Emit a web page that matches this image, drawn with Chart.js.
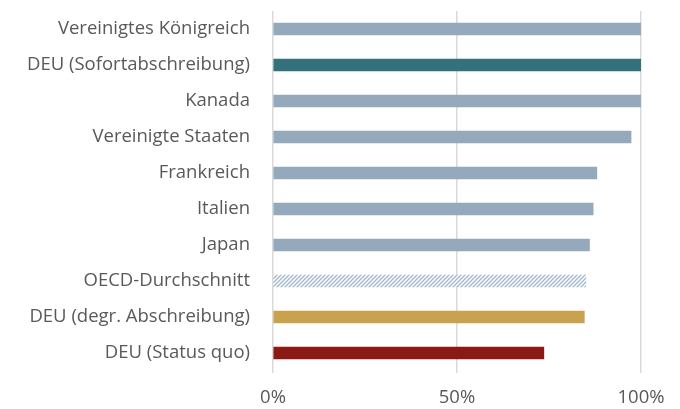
<!DOCTYPE html>
<html>
<head>
<meta charset="utf-8">
<script src="https://cdn.jsdelivr.net/npm/chart.js@4"></script>
<style>
  html, body { margin: 0; padding: 0; background: #fff; }
  #wrap { width: 680px; height: 409px; }
</style>
</head>
<body>
<div id="wrap"><canvas id="myChart" width="680" height="409"></canvas></div>
<script>
const ctx = document.getElementById("myChart");

// categories, top to bottom
var countries = [
  "Vereinigtes Königreich",
  "DEU (Sofortabschreibung)",
  "Kanada",
  "Vereinigte Staaten",
  "Frankreich",
  "Italien",
  "Japan",
  "OECD-Durchschnitt",
  "DEU (degr. Abschreibung)",
  "DEU (Status quo)",
];

// share in percent
var values = [100, 100, 100, 97.3, 88, 87, 86, 85, 84.6, 73.6];

var xTicks = [0, 50, 100];

// hatch for the OECD average
function makeHatch() {
  var c = document.createElement("canvas");
  c.width = 4;
  c.height = 4;
  var g = c.getContext("2d");
  g.fillStyle = "#ffffff";
  g.fillRect(0, 0, 4, 4);
  g.strokeStyle = "#a3b6c8";
  g.lineWidth = 1.3;
  g.beginPath();
  g.moveTo(-1, 5);
  g.lineTo(5, -1);
  g.moveTo(-1, 1);
  g.lineTo(1, -1);
  g.moveTo(3, 5);
  g.lineTo(5, 3);
  g.stroke();
  return g.createPattern(c, "repeat");
}

var blue = "#94a9bc";
var colors = [blue, "#33727b", blue, blue, blue, blue, blue, makeHatch(), "#c9a24e", "#8b1a14"];

var labelFont = { family: "Open Sans", size: 18.5 };

const chart = new Chart(ctx, {
  type: "bar",
  data: {
    labels: countries,
    datasets: [
      {
        data: values,
        backgroundColor: colors,
        borderWidth: 0,
        barThickness: 12,
      },
    ],
  },
  options: {
    indexAxis: "y",
    responsive: false,
    animation: false,
    layout: {
      padding: { top: 11, right: 39, left: 0, bottom: 0 },
    },
    plugins: {
      legend: { display: false },
      tooltip: { enabled: false },
    },
    scales: {
      x: {
        min: 0,
        max: 100,
        afterBuildTicks: function (scale) {
          scale.ticks = xTicks.map(function (v) { return { value: v }; });
        },
        afterFit: function (scale) {
          scale.height = 38;
          scale.paddingLeft = 0;
          scale.paddingRight = 0;
        },
        border: { display: false },
        grid: {
          color: "#d9d9d9",
          lineWidth: 1.5,
          tickLength: 2,
        },
        ticks: {
          color: "#595959",
          font: labelFont,
          padding: 14,
          callback: function (v) { return v + "%"; },
        },
      },
      y: {
        afterFit: function (scale) {
          scale.width = 273;
          scale.paddingTop = 0;
          scale.paddingBottom = 0;
        },
        border: { display: false },
        grid: { display: false },
        ticks: {
          color: "#595959",
          font: labelFont,
          padding: 15,
        },
      },
    },
  },
});
</script>
</body>
</html>
